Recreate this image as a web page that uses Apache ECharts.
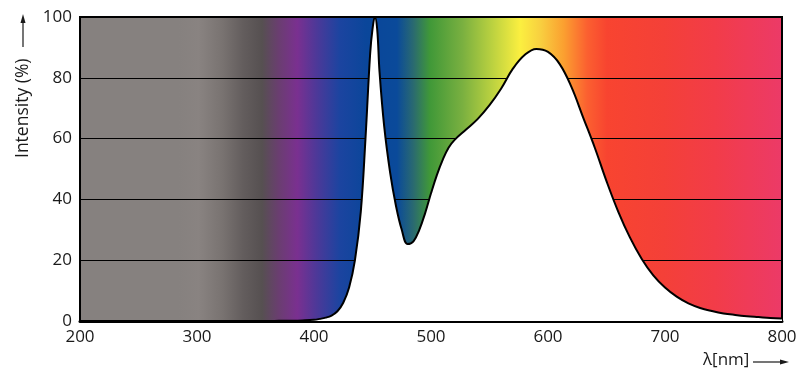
<!DOCTYPE html>
<html>
<head>
<meta charset="utf-8">
<script src="https://cdn.jsdelivr.net/npm/echarts@6/dist/echarts.min.js"></script>
<style>
html,body{margin:0;padding:0;background:#fff;}
#chart{width:800px;height:381px;}
</style>
</head>
<body>
<div id="chart"></div>
<script>
// Emission spectrum (wavelength nm, relative intensity %)
var wavelengths = [350, 360, 370, 380, 390, 400, 405, 410, 415, 420, 425, 430, 435, 440, 444, 448, 450, 452, 454, 456, 460, 465, 470, 475, 480, 485, 490, 495, 500, 505, 510, 515, 520, 530, 540, 550, 560, 570, 580, 590, 600, 610, 620, 630, 640, 650, 660, 670, 680, 690, 700, 710, 720, 730, 740, 750, 760, 770, 780, 790, 800];
var intensity   = [0, 0, 0.05, 0.1, 0.2, 0.4, 0.7, 1.1, 1.8, 3.2, 6, 11, 20, 36, 60, 88, 96, 100, 96, 82, 64, 49, 38, 30, 25.3, 26.2, 30, 35.5, 42, 48, 53, 57, 59.5, 63, 66.5, 71, 76.5, 83, 87.5, 89.5, 88.5, 84.5, 77, 67, 57, 46, 36, 27.5, 20.5, 15, 11, 8, 5.8, 4.3, 3.3, 2.5, 2, 1.6, 1.3, 1.0, 0.8];
var xTicks = [200, 300, 400, 500, 600, 700, 800];
var yTicks = [0, 20, 40, 60, 80, 100];

// Background spectrum colour stops (wavelength nm -> colour)
var stopWl    = [200, 285, 302, 322, 340, 356, 370, 386, 402, 422, 445, 471, 485, 499, 527, 551, 576, 593, 613, 633, 650, 698, 741, 800];
var stopColor = ['#86817f', '#86817f', '#898381', '#797371', '#635d5d', '#565051', '#6a3e70', '#7a3090', '#4e3898', '#1c44a0', '#0a469a', '#0a4a9a', '#2a6a70', '#409838', '#7ab040', '#b8d040', '#fbef40', '#f8d040', '#fba030', '#fb6030', '#f84430', '#f44038', '#f23c48', '#ec3a68'];

var xMin = 200, xMax = 800;
var stops = stopWl.map(function (w, i) {
  return { offset: (w - xMin) / (xMax - xMin), color: stopColor[i] };
});

var chart = echarts.init(document.getElementById('chart'), null, { renderer: 'canvas' });
var font = '"Open Sans", "Noto Sans", sans-serif';
chart.setOption({
  animation: false,
  grid: {
    left: 80, right: 18, top: 17, bottom: 60,
    show: true,
    backgroundColor: new echarts.graphic.LinearGradient(0, 0, 1, 0, stops),
    borderColor: '#000',
    borderWidth: 2
  },
  xAxis: {
    type: 'value', min: xMin, max: xMax, interval: 100,
    axisLine: { show: true, lineStyle: { color: '#000', width: 3 } },
    axisTick: { show: false },
    splitLine: { show: false },
    axisLabel: { color: '#1a1a1a', fontSize: 17, fontFamily: font, margin: 8 }
  },
  yAxis: {
    type: 'value', min: 0, max: 100, interval: 20,
    axisLine: { show: true, lineStyle: { color: '#000', width: 2 } },
    axisTick: { show: false },
    splitLine: { show: true, lineStyle: { color: '#000', width: 1 } },
    axisLabel: { color: '#1a1a1a', fontSize: 17, fontFamily: font, margin: 8 }
  },
  series: [{
    type: 'line',
    data: wavelengths.map(function (w, i) { return [w, intensity[i]]; }),
    smooth: 0.4,
    showSymbol: false,
    symbol: 'none',
    lineStyle: { color: '#000', width: 2 },
    areaStyle: { color: '#ffffff', opacity: 1 },
    z: 3
  }],
  graphic: [
    {
      type: 'text', x: 14, y: 158,
      rotation: Math.PI / 2,
      style: { text: 'Intensity (%)', fontSize: 17.5, fontFamily: font, fill: '#1a1a1a', textAlign: 'left', textVerticalAlign: 'top' }
    },
    { type: 'line', shape: { x1: 23, y1: 47, x2: 23, y2: 22 }, style: { stroke: '#1a1a1a', lineWidth: 1.2 } },
    { type: 'polygon', shape: { points: [[23, 14], [20.5, 23], [25.5, 23]] }, style: { fill: '#1a1a1a' } },
    {
      type: 'text', x: 703, y: 360,
      style: { text: 'λ[nm]', fontSize: 17, fontFamily: font, fill: '#1a1a1a', textAlign: 'left', textVerticalAlign: 'middle' }
    },
    { type: 'line', shape: { x1: 753, y1: 362, x2: 780, y2: 362 }, style: { stroke: '#1a1a1a', lineWidth: 1.2 } },
    { type: 'polygon', shape: { points: [[789, 362], [780, 359.5], [780, 364.5]] }, style: { fill: '#1a1a1a' } }
  ]
});
</script>
</body>
</html>
